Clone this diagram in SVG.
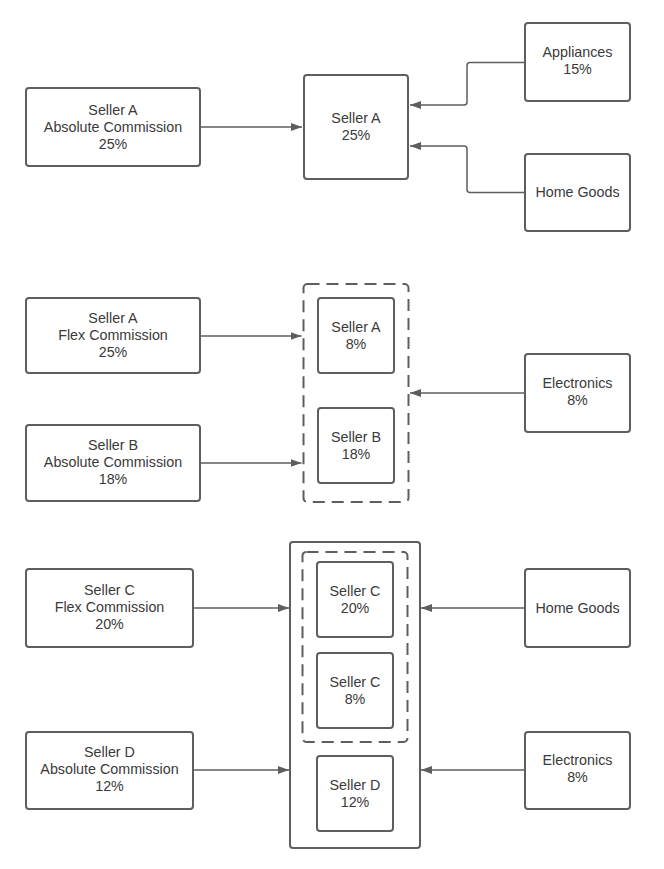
<svg xmlns="http://www.w3.org/2000/svg" width="664" height="869" viewBox="0 0 664 869">
<style>
.n{fill:#fff;stroke:#5e5e5e;stroke-width:2}
.d{fill:none;stroke:#5e5e5e;stroke-width:2;stroke-dasharray:12 7}
.c{fill:none;stroke:#5e5e5e;stroke-width:1.5}
text{font-family:"Liberation Sans",Arial,sans-serif;font-size:14.3px;fill:#3a3a3a;text-anchor:middle}
</style>
<defs>
<marker id="ah" markerUnits="userSpaceOnUse" markerWidth="12" markerHeight="10" refX="11" refY="4" orient="auto">
<path d="M0,0 L11,4 L0,8 Z" fill="#5e5e5e"/>
</marker>
</defs>
<rect width="664" height="869" fill="#fff"/>

<g id="connectors">
<path class="c" d="M200,127 H302" marker-end="url(#ah)"/>
<path class="c" d="M525,62.5 H470 Q467,62.5 467,65.5 V102 Q467,105 464,105 H410" marker-end="url(#ah)"/>
<path class="c" d="M525,192.5 H470 Q467,192.5 467,189.5 V149 Q467,146 464,146 H410" marker-end="url(#ah)"/>
<path class="c" d="M200,336 H301.5" marker-end="url(#ah)"/>
<path class="c" d="M200,463 H301.5" marker-end="url(#ah)"/>
<path class="c" d="M525,393 H410" marker-end="url(#ah)"/>
<path class="c" d="M193,608 H289" marker-end="url(#ah)"/>
<path class="c" d="M193,770 H289" marker-end="url(#ah)"/>
<path class="c" d="M525,608 H421" marker-end="url(#ah)"/>
<path class="c" d="M525,770 H421" marker-end="url(#ah)"/>
</g>

<g id="top-sellerA-abs">
<rect class="n" x="26" y="88" width="174" height="78" rx="3"/>
<text x="113" y="115">Seller A</text>
<text x="113" y="132">Absolute Commission</text>
<text x="113" y="149">25%</text>
</g>
<g id="top-sellerA">
<rect class="n" x="304" y="75" width="104" height="104" rx="3"/>
<text x="356" y="123">Seller A</text>
<text x="356" y="140">25%</text>
</g>
<g id="top-appliances">
<rect class="n" x="525" y="23" width="105" height="78" rx="3"/>
<text x="577.5" y="57">Appliances</text>
<text x="577.5" y="74">15%</text>
</g>
<g id="top-homegoods">
<rect class="n" x="525" y="154" width="105" height="77" rx="3"/>
<text x="577.5" y="197">Home Goods</text>
</g>

<g id="mid-group">
<rect class="d" x="303.5" y="284" width="105" height="218" rx="4"/>
</g>
<g id="mid-sellerA-flex">
<rect class="n" x="26" y="298" width="174" height="75" rx="3"/>
<text x="113" y="323">Seller A</text>
<text x="113" y="340">Flex Commission</text>
<text x="113" y="357">25%</text>
</g>
<g id="mid-sellerB-abs">
<rect class="n" x="26" y="425" width="174" height="76" rx="3"/>
<text x="113" y="450">Seller B</text>
<text x="113" y="467">Absolute Commission</text>
<text x="113" y="484">18%</text>
</g>
<g id="mid-sellerA">
<rect class="n" x="318" y="298" width="76" height="75" rx="3"/>
<text x="356" y="332">Seller A</text>
<text x="356" y="349">8%</text>
</g>
<g id="mid-sellerB">
<rect class="n" x="318" y="408" width="76" height="75" rx="3"/>
<text x="356" y="442">Seller B</text>
<text x="356" y="459">18%</text>
</g>
<g id="mid-electronics">
<rect class="n" x="525" y="354" width="105" height="78" rx="3"/>
<text x="577.5" y="388">Electronics</text>
<text x="577.5" y="405">8%</text>
</g>

<g id="bot-outer">
<rect class="n" x="290" y="542" width="130" height="306" rx="3"/>
</g>
<g id="bot-dashed">
<rect class="d" x="302.5" y="552" width="105" height="190" rx="4"/>
</g>
<g id="bot-sellerC-flex">
<rect class="n" x="26" y="569" width="167" height="78" rx="3"/>
<text x="109.5" y="595">Seller C</text>
<text x="109.5" y="612">Flex Commission</text>
<text x="109.5" y="629">20%</text>
</g>
<g id="bot-sellerD-abs">
<rect class="n" x="26" y="732" width="167" height="77" rx="3"/>
<text x="109.5" y="757">Seller D</text>
<text x="109.5" y="774">Absolute Commission</text>
<text x="109.5" y="791">12%</text>
</g>
<g id="bot-sellerC20">
<rect class="n" x="317" y="562" width="76" height="75" rx="3"/>
<text x="355" y="596">Seller C</text>
<text x="355" y="613">20%</text>
</g>
<g id="bot-sellerC8">
<rect class="n" x="317" y="653" width="76" height="75" rx="3"/>
<text x="355" y="687">Seller C</text>
<text x="355" y="704">8%</text>
</g>
<g id="bot-sellerD">
<rect class="n" x="317" y="756" width="76" height="75" rx="3"/>
<text x="355" y="790">Seller D</text>
<text x="355" y="807">12%</text>
</g>
<g id="bot-homegoods">
<rect class="n" x="525" y="569" width="105" height="78" rx="3"/>
<text x="577.5" y="613">Home Goods</text>
</g>
<g id="bot-electronics">
<rect class="n" x="525" y="732" width="105" height="77" rx="3"/>
<text x="577.5" y="765">Electronics</text>
<text x="577.5" y="782">8%</text>
</g>
</svg>
